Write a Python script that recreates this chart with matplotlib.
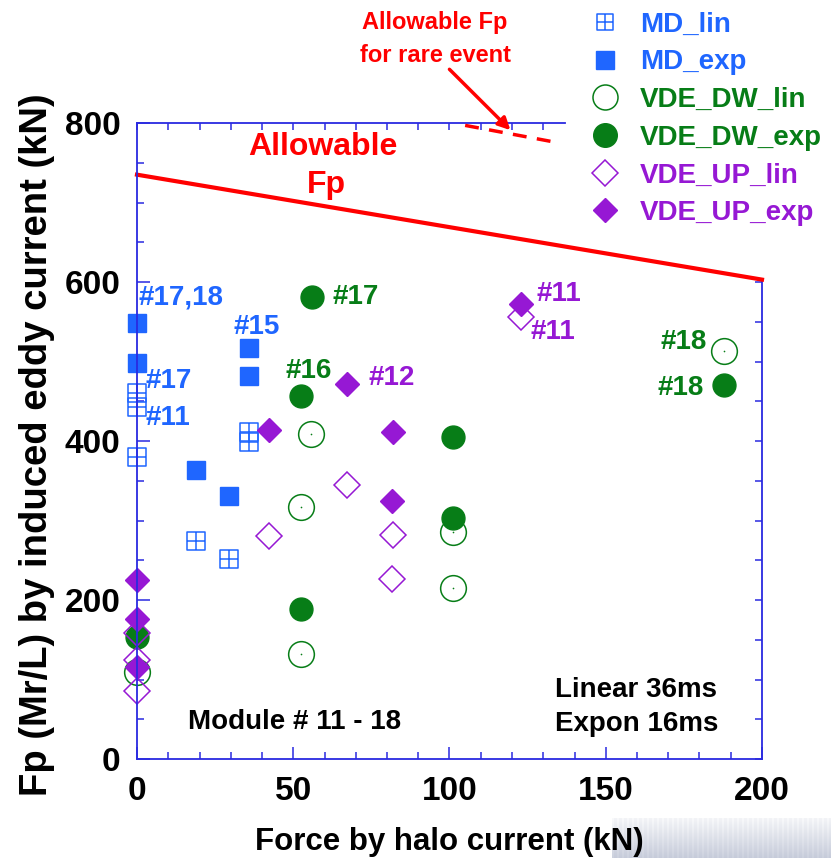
import numpy as np
import matplotlib
matplotlib.use("Agg")
import matplotlib.pyplot as plt
from matplotlib.path import Path
from matplotlib.lines import Line2D
from matplotlib.colors import LinearSegmentedColormap

# data (x: halo force kN, y: Fp kN)
md_lin_x = [0, 0, 0, 18.9, 29.4, 35.8, 35.8]
md_lin_y = [460, 443, 380, 274, 251, 411, 399]
md_exp_x = [0, 0, 18.9, 29.4, 35.8, 35.8]
md_exp_y = [548, 498, 363, 331, 517, 482]
dw_lin_x = [0, 52.5, 52.5, 55.7, 101, 101, 187.8]
dw_lin_y = [109, 132, 317, 409, 286, 215, 513]
dw_exp_x = [0, 52.5, 52.5, 56, 101, 101, 187.8]
dw_exp_y = [153, 189, 457, 581, 405, 303, 470]
up_lin_x = [0, 0, 0, 42.2, 67.2, 81.9, 81.6, 122.9]
up_lin_y = [158, 124, 86, 281, 345, 282, 226, 556]
up_exp_x = [0, 0, 0, 42.2, 67.2, 81.9, 81.6, 122.9]
up_exp_y = [225, 176, 116, 414, 472, 411, 325, 572]

allow_x = [0, 200]
allow_y = [735, 603]
rare_x = [105, 135]
rare_y = [797, 775]

BLUE = "#1f66ff"
GREEN = "#077d17"
PURPLE = "#9618d4"
RED = "#ff0000"
AXC = "#2a2ae0"

SANS = ["Liberation Sans", "DejaVu Sans"]

# square with a cross inside for MD_lin
grid_path = Path(
    [(-1, -1), (1, -1), (1, 1), (-1, 1), (-1, -1), (0, -1), (0, 1), (-1, 0), (1, 0)],
    [Path.MOVETO, Path.LINETO, Path.LINETO, Path.LINETO, Path.CLOSEPOLY,
     Path.MOVETO, Path.LINETO, Path.MOVETO, Path.LINETO],
)

fig = plt.figure(figsize=(8.31, 8.58), dpi=100)
ax = fig.add_axes([137 / 831, 1 - 759 / 858, 625 / 831, 636 / 858])
ax.set_xlim(0, 200)
ax.set_ylim(0, 800)

kw = dict(clip_on=False, linestyle="none")
ax.plot(md_lin_x, md_lin_y, marker=grid_path, ms=13, mfc="none", mec=BLUE, mew=1.1, **kw)
ax.plot(md_exp_x, md_exp_y, marker="s", ms=13, mfc=BLUE, mec=BLUE, **kw)
ax.plot(dw_lin_x, dw_lin_y, marker="o", ms=18.5, mfc="none", mec=GREEN, mew=1.1, **kw)
ax.plot(dw_lin_x, dw_lin_y, marker="o", ms=1.2, mfc=GREEN, mec=GREEN, mew=0, **kw)
ax.plot(dw_exp_x, dw_exp_y, marker="o", ms=16.5, mfc=GREEN, mec=GREEN, **kw)
ax.plot(up_lin_x, up_lin_y, marker="D", ms=13, mfc="none", mec=PURPLE, mew=1.1, **kw)
ax.plot(up_exp_x, up_exp_y, marker="D", ms=12, mfc=PURPLE, mec=PURPLE, **kw)

# allowable lines
ax.plot(allow_x, allow_y, color=RED, lw=3, clip_on=False)
ax.plot(rare_x, rare_y, color=RED, lw=2.5, dashes=(4, 3), clip_on=False)

# axes frame styling
for s in ["top", "right"]:
    ax.spines[s].set_visible(False)
for s in ["left", "bottom"]:
    ax.spines[s].set_color(AXC)
    ax.spines[s].set_linewidth(1.3)
ax.set_xticks([0, 50, 100, 150, 200])
ax.set_xticks(np.arange(0, 201, 10), minor=True)
ax.set_yticks([0, 200, 400, 600, 800])
ax.set_yticks(np.arange(0, 801, 50), minor=True)
ax.tick_params(which="both", direction="in", color=AXC, width=1.1)
ax.tick_params(which="major", length=9, pad=12)
ax.tick_params(which="minor", length=5)
for lab in ax.get_xticklabels() + ax.get_yticklabels():
    lab.set_fontfamily(SANS)
    lab.set_fontweight("bold")
    lab.set_fontsize(24)

secx = ax.secondary_xaxis("top")
secx.set_xticks(np.arange(0, 131, 10))
secx.tick_params(direction="in", length=5, color=AXC, labeltop=False, width=1.1)
secx.spines["top"].set_bounds(0, 137)
secx.spines["top"].set_color(AXC)
secx.spines["top"].set_linewidth(1.3)

secy = ax.secondary_yaxis("right")
secy.set_yticks(np.arange(0, 601, 50))
secy.tick_params(direction="in", length=5, color=AXC, labelright=False, width=1.1)
secy.spines["right"].set_bounds(0, 600)
secy.spines["right"].set_color(AXC)
secy.spines["right"].set_linewidth(1.3)

fig.text(449 / 831, 1 - 850 / 858, "Force by halo current (kN)", fontsize=22.5,
         fontweight="bold", family=SANS, ha="center", va="baseline")
fig.text(37 / 831, 1 - 445 / 858, "Fp (Mr/L) by induced eddy current (kN)",
         fontsize=27.5, fontweight="bold", family=SANS, rotation=90,
         ha="center", va="center")

# point labels
lab_kw = dict(fontsize=20, fontweight="bold", family=SANS, va="center")
ax.text(0.6, 580, "#17,18", color=BLUE, ha="left", **lab_kw)
ax.text(31, 543, "#15", color=BLUE, ha="left", **lab_kw)
ax.text(2.6, 475, "#17", color=BLUE, ha="left", **lab_kw)
ax.text(2.6, 429, "#11", color=BLUE, ha="left", **lab_kw)
ax.text(62.7, 581, "#17", color=GREEN, ha="left", **lab_kw)
ax.text(47.4, 488, "#16", color=GREEN, ha="left", **lab_kw)
ax.text(74.2, 479, "#12", color=PURPLE, ha="left", **lab_kw)
ax.text(127.7, 585, "#11", color=PURPLE, ha="left", **lab_kw)
ax.text(126, 537, "#11", color=PURPLE, ha="left", **lab_kw)
ax.text(182.4, 525, "#18", color=GREEN, ha="right", **lab_kw)
ax.text(181.4, 467, "#18", color=GREEN, ha="right", **lab_kw)

red_kw = dict(color=RED, fontweight="bold", family=SANS, ha="center", va="center")
ax.text(59.5, 770, "Allowable", fontsize=23, **red_kw)
ax.text(60.5, 722, "Fp", fontsize=23, **red_kw)
ax.text(95.4, 927, "Allowable Fp", fontsize=17, clip_on=False, **red_kw)
ax.annotate("for rare event", xy=(119.5, 791), xytext=(95.4, 885.5),
            fontsize=17, annotation_clip=False,
            arrowprops=dict(arrowstyle="-|>", color=RED, lw=2.5,
                            mutation_scale=18, shrinkA=0, shrinkB=0),
            **red_kw)

ax.text(16.3, 46, "Module # 11 - 18", fontsize=20, fontweight="bold",
        family=SANS, ha="left", va="center")
ax.text(133.8, 87, "Linear 36ms", fontsize=20, fontweight="bold",
        family=SANS, ha="left", va="center")
ax.text(133.8, 44, "Expon 16ms", fontsize=20, fontweight="bold",
        family=SANS, ha="left", va="center")

# legend outside at top right
handles = [
    Line2D([], [], marker=grid_path, ms=12, mfc="none", mec=BLUE, mew=1.1, ls="none"),
    Line2D([], [], marker="s", ms=13, mfc=BLUE, mec=BLUE, ls="none"),
    Line2D([], [], marker="o", ms=18, mfc="none", mec=GREEN, mew=1.1, ls="none"),
    Line2D([], [], marker="o", ms=17, mfc=GREEN, mec=GREEN, ls="none"),
    Line2D([], [], marker="D", ms=13, mfc="none", mec=PURPLE, mew=1.1, ls="none"),
    Line2D([], [], marker="D", ms=12, mfc=PURPLE, mec=PURPLE, ls="none"),
]
names = ["MD_lin", "MD_exp", "VDE_DW_lin", "VDE_DW_exp", "VDE_UP_lin", "VDE_UP_exp"]
fig.legend(handles, names, loc="upper left", bbox_to_anchor=(583 / 831, 1 - 9 / 858),
           frameon=False, labelspacing=0.42, handletextpad=0.56, handlelength=1.4,
           borderpad=0.1, borderaxespad=0,
           labelcolor=[BLUE, BLUE, GREEN, GREEN, PURPLE, PURPLE],
           prop={"family": SANS, "weight": "bold", "size": 20})

# faint grey-blue slide decoration at bottom right
deco = fig.add_axes([612 / 831, 0, 219 / 831, 40 / 858])
cmap = LinearSegmentedColormap.from_list("deco", ["#ffffff", "#c0c6d6"])
grad = np.tile(np.linspace(0.2, 0.9, 40)[:, None], (1, 219))
grad = grad - 0.1 * (np.arange(219) % 5 < 2)[None, :]
deco.imshow(grad, cmap=cmap, vmin=0, vmax=1, aspect="auto", origin="upper")
deco.axis("off")

fig.savefig("out.png", dpi=100)
